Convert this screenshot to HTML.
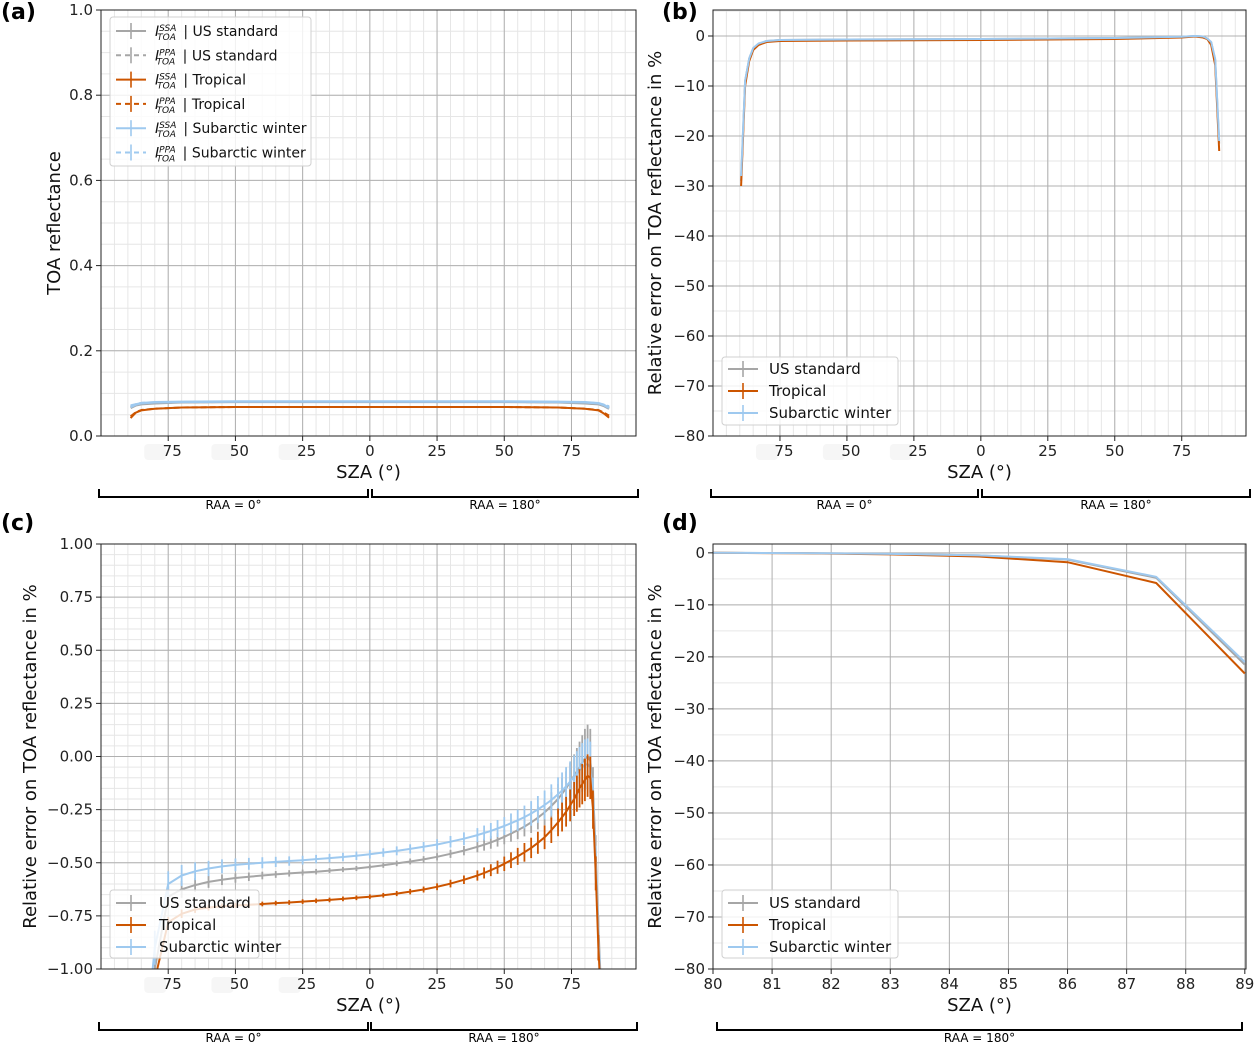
<!DOCTYPE html>
<html><head><meta charset="utf-8">
<style>
html,body{margin:0;padding:0;background:#fff;width:1257px;height:1046px;overflow:hidden;}
svg{display:block;font-family:"DejaVu Sans","Liberation Sans",sans-serif;}
</style></head>
<body>
<svg id="fig" width="1257" height="1046" viewBox="0 0 1257 1046" xmlns="http://www.w3.org/2000/svg"></svg>
<script>
// ---------- data ----------
const A_SZA = [-89,-87,-85,-80,-70,-50,0,50,70,80,85,87,89];
const A_US_SSA = [0.066,0.072,0.075,0.077,0.079,0.080,0.080,0.080,0.079,0.077,0.075,0.071,0.064];
const A_US_PPA = [0.070,0.073,0.076,0.077,0.079,0.080,0.080,0.080,0.079,0.077,0.075,0.072,0.068];
const A_TR_SSA = [0.042,0.055,0.060,0.064,0.067,0.068,0.068,0.068,0.067,0.064,0.060,0.053,0.043];
const A_TR_PPA = [0.046,0.056,0.061,0.064,0.067,0.068,0.068,0.068,0.067,0.064,0.061,0.055,0.048];
const A_SW_SSA = [0.068,0.074,0.077,0.079,0.080,0.081,0.081,0.081,0.080,0.079,0.077,0.073,0.066];
const A_SW_PPA = [0.072,0.075,0.078,0.079,0.080,0.081,0.081,0.081,0.080,0.079,0.077,0.074,0.070];

const B_SZA = [-89.5,-88,-86.5,-85,-83,-80,-75,-50,0,50,75,80,83,84.5,86,87.5,89];
const B_US = [-29,-9,-4.5,-2.5,-1.6,-1.0,-0.8,-0.7,-0.6,-0.4,-0.15,0,-0.1,-0.5,-1.3,-4.8,-21.5];
const B_TR = [-30,-10,-5,-2.8,-1.8,-1.2,-1.0,-0.9,-0.8,-0.6,-0.3,-0.1,-0.3,-0.6,-1.8,-5.8,-23];
const B_SW = [-28,-9,-4.5,-2.4,-1.5,-1.0,-0.8,-0.7,-0.6,-0.4,-0.15,0,-0.1,-0.5,-1.2,-4.6,-21];

const C_SZA = [-89,-87,-85,-82,-80,-75,-70,-65,-60,-55,-50,-45,-40,-35,-30,-25,-20,-15,-10,-5,0,5,10,15,20,25,30,35,40,42.5,45,47.5,50,52.5,55,57.5,60,62.5,65,67.5,70,71.5,73,74.5,76,77,78,79,80,81,82,83,84,85,86,87];
const C_US = [-1.25,-1.22,-1.2,-1.18,-1.0,-0.66,-0.625,-0.605,-0.59,-0.58,-0.572,-0.566,-0.56,-0.555,-0.55,-0.546,-0.542,-0.537,-0.532,-0.527,-0.52,-0.512,-0.503,-0.494,-0.484,-0.472,-0.458,-0.443,-0.425,-0.415,-0.404,-0.392,-0.378,-0.363,-0.347,-0.33,-0.31,-0.288,-0.263,-0.233,-0.2,-0.175,-0.15,-0.12,-0.09,-0.07,-0.05,-0.03,-0.01,0.0,-0.02,-0.15,-0.45,-0.8,-1.1,-1.2];
const C_SW = [-1.25,-1.22,-1.2,-1.15,-0.9,-0.6,-0.56,-0.54,-0.527,-0.517,-0.51,-0.505,-0.5,-0.496,-0.492,-0.488,-0.483,-0.478,-0.473,-0.467,-0.46,-0.452,-0.444,-0.435,-0.425,-0.414,-0.401,-0.387,-0.37,-0.36,-0.35,-0.339,-0.327,-0.314,-0.3,-0.285,-0.268,-0.249,-0.228,-0.205,-0.178,-0.16,-0.14,-0.118,-0.095,-0.08,-0.065,-0.052,-0.04,-0.035,-0.05,-0.2,-0.5,-0.85,-1.1,-1.2];
const C_TR = [-1.25,-1.22,-1.2,-1.18,-1.05,-0.78,-0.74,-0.72,-0.711,-0.705,-0.701,-0.698,-0.694,-0.69,-0.687,-0.683,-0.679,-0.675,-0.67,-0.665,-0.66,-0.653,-0.645,-0.636,-0.626,-0.613,-0.598,-0.58,-0.56,-0.548,-0.535,-0.521,-0.505,-0.488,-0.47,-0.451,-0.43,-0.406,-0.38,-0.347,-0.31,-0.285,-0.26,-0.23,-0.2,-0.175,-0.15,-0.13,-0.11,-0.09,-0.1,-0.25,-0.55,-0.9,-1.15,-1.25];
const C_ERR_US = [0.05,0.05,0.05,0.08,0.07,0.05,0.04,0.032,0.028,0.025,0.022,0.02,0.018,0.016,0.015,0.014,0.013,0.012,0.012,0.012,0.012,0.012,0.013,0.014,0.015,0.017,0.019,0.022,0.026,0.028,0.03,0.032,0.035,0.038,0.042,0.046,0.05,0.055,0.06,0.065,0.07,0.075,0.08,0.09,0.1,0.11,0.12,0.13,0.14,0.15,0.15,0.1,0.08,0.05,0.03,0.02];
const C_ERR_SW = [0.05,0.05,0.05,0.09,0.08,0.06,0.05,0.042,0.036,0.033,0.03,0.028,0.026,0.024,0.022,0.021,0.02,0.02,0.02,0.02,0.02,0.02,0.021,0.022,0.023,0.025,0.027,0.03,0.033,0.035,0.037,0.04,0.042,0.046,0.05,0.054,0.058,0.063,0.068,0.074,0.08,0.085,0.09,0.095,0.1,0.105,0.11,0.115,0.12,0.12,0.12,0.1,0.08,0.05,0.03,0.02];
const C_ERR_TR = [0.05,0.05,0.05,0.06,0.04,0.025,0.02,0.016,0.014,0.013,0.012,0.012,0.011,0.011,0.011,0.011,0.011,0.011,0.011,0.011,0.011,0.011,0.012,0.013,0.014,0.016,0.018,0.02,0.024,0.026,0.028,0.031,0.034,0.037,0.04,0.044,0.048,0.052,0.056,0.06,0.065,0.068,0.07,0.075,0.08,0.085,0.09,0.095,0.1,0.1,0.1,0.09,0.08,0.06,0.04,0.02];

const D_SZA = [80,81.5,83,84.5,86,87.5,89];
const D_US = [0,-0.05,-0.2,-0.5,-1.3,-4.8,-21.5];
const D_TR = [0,-0.08,-0.3,-0.7,-1.8,-5.8,-23.2];
const D_SW = [0,-0.05,-0.2,-0.5,-1.2,-4.6,-21];

const GRAY='#a6a6a6', ORANGE='#cc5500', BLUE='#9ec9ef';
const NS='http://www.w3.org/2000/svg';
const svg=document.getElementById('fig');
function mk(tag,attrs,parent){const e=document.createElementNS(NS,tag);for(const k in attrs)e.setAttribute(k,attrs[k]);(parent||svg).appendChild(e);return e;}
function txt(s,attrs,parent){const e=mk('text',attrs,parent);e.textContent=s;return e;}

function panel(P){
  const g=mk('g',{});
  
  
  const sx=v=>P.x0+(v-P.xd[0])/(P.xd[1]-P.xd[0])*(P.x1-P.x0);
  const sy=v=>P.y1-(v-P.yd[0])/(P.yd[1]-P.yd[0])*(P.y1-P.y0);
  const clipId='clip'+P.name;
  const cp=mk('clipPath',{id:clipId},g);mk('rect',{x:P.x0,y:P.y0,width:P.x1-P.x0,height:P.y1-P.y0},cp);
  for(const v of P.xminor){mk('line',{x1:sx(v),x2:sx(v),y1:P.y0,y2:P.y1,stroke:'#e6e6e6','stroke-width':1},g);}
  for(const v of P.yminor){mk('line',{x1:P.x0,x2:P.x1,y1:sy(v),y2:sy(v),stroke:'#e6e6e6','stroke-width':1},g);}
  for(const v of P.xmajor){mk('line',{x1:sx(v),x2:sx(v),y1:P.y0,y2:P.y1,stroke:'#b0b0b0','stroke-width':1},g);}
  for(const v of P.ymajor){mk('line',{x1:P.x0,x2:P.x1,y1:sy(v),y2:sy(v),stroke:'#b0b0b0','stroke-width':1},g);}
  P.xmajor.forEach((v,i)=>{
    mk('line',{x1:sx(v),x2:sx(v),y1:P.y1,y2:P.y1+5,stroke:'#222'},g);
    const lab=P.xlabels[i];
    if(lab.hidden){
      mk('rect',{x:sx(v)-24,y:P.y1+8,width:22,height:16,rx:4,fill:'#f6f6f6'},g);
      const t=txt(lab.t,{x:sx(v)+4,y:P.y1+20,'font-size':15,'text-anchor':'middle',fill:'#222'},g);
      
    } else {
      const t=txt(lab.t,{x:sx(v),y:P.y1+20,'font-size':15,'text-anchor':'middle',fill:'#222'},g);
      
    }
  });
  P.ymajor.forEach((v,i)=>{
    mk('line',{x1:P.x0-5,x2:P.x0,y1:sy(v),y2:sy(v),stroke:'#222'},g);
    const t=txt(P.ylabels[i],{x:P.x0-8,y:sy(v)+5,'font-size':15,'text-anchor':'end',fill:'#222'},g);
    
  });
  const sg=mk('g',{'clip-path':`url(#${clipId})`},g);
  for(const s of P.series){
    const pts=s.x.map((v,i)=>sx(v).toFixed(1)+','+sy(s.y[i]).toFixed(1)).join(' ');
    if(s.err){
      s.x.forEach((v,i)=>{
        const b=mk('line',{x1:sx(v),x2:sx(v),y1:sy(s.y[i]+s.err[i]),y2:sy(s.y[i]-s.err[i]),stroke:s.color,'stroke-width':1.8},sg);
        
      });
    }
    const pl=mk('polyline',{points:pts,fill:'none',stroke:s.color,'stroke-width':s.w||2,'stroke-dasharray':s.dash||'none','stroke-linejoin':'round'},sg);
    
    
  }
  mk('rect',{x:P.x0,y:P.y0,width:P.x1-P.x0,height:P.y1-P.y0,fill:'none',stroke:'#222','stroke-width':1},g);
  const xt=txt('SZA (°)',{x:(P.x0+P.x1)/2,y:P.y1+42,'font-size':18,'text-anchor':'middle',fill:'#111'},g);
  
  const yt=txt(P.ytitle,{x:0,y:0,'font-size':18,'text-anchor':'middle',fill:'#111',transform:`translate(${P.ytx},${(P.y0+P.y1)/2}) rotate(-90)`},g);
  
  const pl=txt(P.letter,{x:P.lx,y:P.ly,'font-size':22,'font-weight':'bold',fill:'#000'},g);
  
  for(const b of P.brackets){
    mk('path',{d:`M${b[0]},${b[2]-8} V${b[2]} H${b[1]} V${b[2]-8}`,fill:'none',stroke:'#000','stroke-width':2},g);
    const t=txt(b[3],{x:(b[0]+b[1])/2,y:b[2]+12,'font-size':12,'text-anchor':'middle',fill:'#000'},g);
    
  }
  return g;
}
function range(a,b,s){const r=[];for(let v=a;v<=b+1e-9;v+=s)r.push(+v.toFixed(4));return r;}
const XMAJ=[-75,-50,-25,0,25,50,75];
const XLAB=[{t:'75',hidden:1},{t:'50',hidden:1},{t:'25',hidden:1},{t:'0'},{t:'25'},{t:'50'},{t:'75'}];

panel({name:'panel-a',letter:'(a)',lx:1,ly:19,x0:101,x1:636,y0:10,y1:436,xd:[-100,99],yd:[0,1],
  xmajor:XMAJ,xlabels:XLAB,xminor:range(-95,95,5),ymajor:range(0,1,0.2),ylabels:['0.0','0.2','0.4','0.6','0.8','1.0'],yminor:range(0,1,0.05),
  ytitle:'TOA reflectance',ytx:60,
  brackets:[[99,368,497,'RAA = 0°'],[372,638,497,'RAA = 180°']],
  series:[
    {id:'us-standard-ssa',x:A_SZA,y:A_US_SSA,color:GRAY,w:2.5},
    {id:'us-standard-ppa',x:A_SZA,y:A_US_PPA,color:GRAY,dash:'6,3'},
    {id:'tropical-ssa',x:A_SZA,y:A_TR_SSA,color:ORANGE,w:2},
    {id:'tropical-ppa',x:A_SZA,y:A_TR_PPA,color:ORANGE,dash:'6,3'},
    {id:'subarctic-winter-ssa',x:A_SZA,y:A_SW_SSA,color:BLUE,w:2.5},
    {id:'subarctic-winter-ppa',x:A_SZA,y:A_SW_PPA,color:BLUE,dash:'6,3'}]});

panel({name:'panel-b',letter:'(b)',lx:662,ly:19,x0:713,x1:1246,y0:10,y1:436,xd:[-100,99],yd:[-80,5.2],
  xmajor:XMAJ,xlabels:XLAB,xminor:range(-95,95,5),ymajor:range(-80,0,10),ylabels:['−80','−70','−60','−50','−40','−30','−20','−10','0'],yminor:range(-80,5,5),
  ytitle:'Relative error on TOA reflectance in %',ytx:661,
  brackets:[[711,978,497,'RAA = 0°'],[982,1250,497,'RAA = 180°']],
  series:[
    {id:'us-standard-line',x:B_SZA,y:B_US,color:GRAY},
    {id:'tropical-line',x:B_SZA,y:B_TR,color:ORANGE},
    {id:'subarctic-winter-line',x:B_SZA,y:B_SW,color:BLUE}]});

panel({name:'panel-c',letter:'(c)',lx:1,ly:530,x0:101,x1:636,y0:544,y1:969,xd:[-100,99],yd:[-1,1],
  xmajor:XMAJ,xlabels:XLAB,xminor:range(-95,95,5),ymajor:range(-1,1,0.25),ylabels:['−1.00','−0.75','−0.50','−0.25','0.00','0.25','0.50','0.75','1.00'],yminor:range(-1,1,0.05),
  ytitle:'Relative error on TOA reflectance in %',ytx:36,
  brackets:[[99,368,1030,'RAA = 0°'],[371,637,1030,'RAA = 180°']],
  series:[
    {id:'us-standard-line',x:C_SZA,y:C_US,err:C_ERR_US,color:GRAY},
    {id:'subarctic-winter-line',x:C_SZA,y:C_SW,err:C_ERR_SW,color:BLUE},
    {id:'tropical-line',x:C_SZA,y:C_TR,err:C_ERR_TR,color:ORANGE}]});

panel({name:'panel-d',letter:'(d)',lx:662,ly:530,x0:713,x1:1246,y0:544,y1:969,xd:[80,89.02],yd:[-80,1.7],
  xmajor:range(80,89,1),xlabels:range(80,89,1).map(v=>({t:String(v)})),xminor:[],ymajor:range(-80,0,10),ylabels:['−80','−70','−60','−50','−40','−30','−20','−10','0'],yminor:range(-80,0,5),
  ytitle:'Relative error on TOA reflectance in %',ytx:661,
  brackets:[[717,1242,1030,'RAA = 180°']],
  series:[
    {id:'us-standard-line',x:D_SZA,y:D_US,color:GRAY},
    {id:'tropical-line',x:D_SZA,y:D_TR,color:ORANGE},
    {id:'subarctic-winter-line',x:D_SZA,y:D_SW,color:BLUE}]});

function legend(name,x,y,w,h,entries,fs,rowH,sampleW,textX,firstY){
  const g=mk('g',{});
  
  
  mk('rect',{x:x,y:y,width:w,height:h,rx:3,fill:'#fff','fill-opacity':0.82,stroke:'#d0d0d0'},g);
  entries.forEach((e,i)=>{
    const cy=firstY+i*rowH;
    const eg=mk('g',{},g);
    
    
    mk('line',{x1:x+6,x2:x+6+sampleW,y1:cy,y2:cy,stroke:e.c,'stroke-width':2,'stroke-dasharray':e.dash||'none'},eg);
    mk('line',{x1:x+6+sampleW/2,x2:x+6+sampleW/2,y1:cy-8,y2:cy+8,stroke:e.c,'stroke-width':1.6},eg);
    if(e.math){
      const t=mk('text',{x:textX,y:cy+5,'font-size':fs,fill:'#111'},eg);
      const i1=mk('tspan',{'font-style':'italic'},t);i1.textContent='I';
      const s1=mk('tspan',{'font-style':'italic','font-size':9,dy:-5},t);s1.textContent=e.sup;
      const s2=mk('tspan',{'font-style':'italic','font-size':9,dx:-(e.sup.length*6.2),dy:9},t);s2.textContent='TOA';
      const r=mk('tspan',{dy:-4,dx:3},t);r.textContent=' | '+e.t;
    } else {
      txt(e.t,{x:textX,y:cy+5,'font-size':fs,fill:'#111'},eg);
    }
  });
}
legend('legend-a',110,17,201,149,[
  {c:GRAY,math:1,sup:'SSA',t:'US standard'},{c:GRAY,math:1,sup:'PPA',t:'US standard',dash:'5,4'},
  {c:ORANGE,math:1,sup:'SSA',t:'Tropical'},{c:ORANGE,math:1,sup:'PPA',t:'Tropical',dash:'5,4'},
  {c:BLUE,math:1,sup:'SSA',t:'Subarctic winter'},{c:BLUE,math:1,sup:'PPA',t:'Subarctic winter',dash:'5,4'}],14,24.3,30,155,31);
const L3=[{c:GRAY,t:'US standard'},{c:ORANGE,t:'Tropical'},{c:BLUE,t:'Subarctic winter'}];
legend('legend-b',722,357,176,68,L3,15,22,30,769,369);
legend('legend-c',110,890,149,68,L3,15,22,30,159,903);
legend('legend-d',722,890,176,68,L3,15,22,30,769,903);
</script>
</body></html>
